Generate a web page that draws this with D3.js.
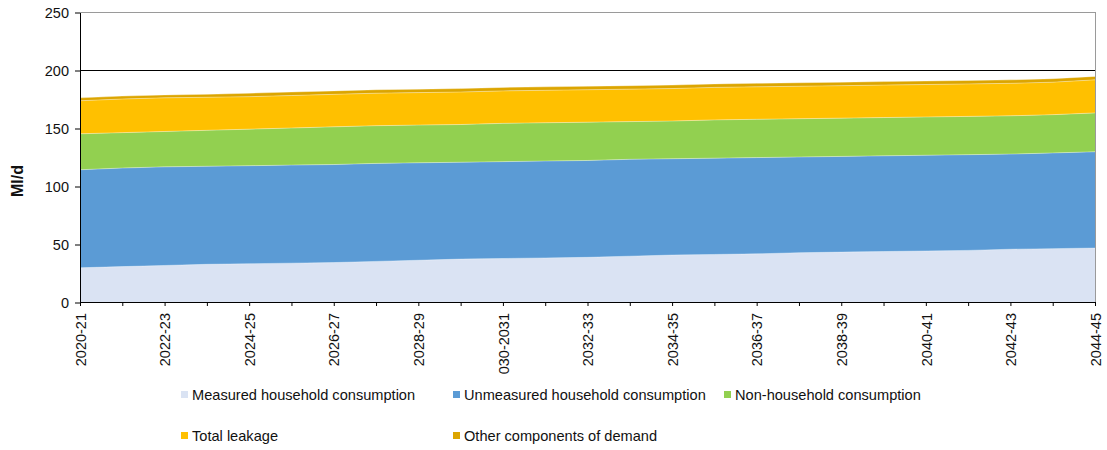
<!DOCTYPE html>
<html>
<head>
<meta charset="utf-8">
<script src="https://cdn.jsdelivr.net/npm/d3@7"></script>
<style>
  html, body { margin: 0; padding: 0; background: #fff; }
  svg { display: block; font-family: "Liberation Sans", Arial, sans-serif; }
</style>
</head>
<body>
<svg id="chart" width="1107" height="450"></svg>
<script>
// Demand components by year (Ml/d)
const years = ["2020-21","2021-22","2022-23","2023-24","2024-25","2025-26","2026-27","2027-28",
  "2028-29","2029-30","2030-31","2031-32","2032-33","2033-34","2034-35","2035-36","2036-37",
  "2037-38","2038-39","2039-40","2040-41","2041-42","2042-43","2043-44","2044-45"];

// Tick labels shown under every second year
const tickLabels = ["2020-21","2022-23","2024-25","2026-27","2028-29","030-2031","2032-33",
  "2034-35","2036-37","2038-39","2040-41","2042-43","2044-45"];

const measured    = [29.5,30.5,31.5,32.5,33,33.5,34,35,36,37,37.5,38,38.5,39.5,40.5,41,41.5,42.5,43,43.5,44,44.5,45.5,46,46.5];
const unmeasured  = [84.5,85,85,84.5,84.5,84.5,84.5,84.5,84,83.5,83.5,83.5,83.5,83.5,83,83,83,82.5,82.5,82.5,82.5,82.5,82,82.5,83];
const nonHousehold= [31,30.5,30.5,31,31.5,32,32.5,32.5,32.5,32.5,33,33,33,32.5,32.5,33,33,33,33,33,33,33,33,33,33.5];
const leakage     = [28.5,29,29,28.5,28,28,28,28,28,28,28,28,28,28,28,28,28,28,28,28,28,28,28,28,28.5];
const other       = [2.5,2.5,2.5,2.5,3,3,3,3,3,3,3,3,3,3,3,3,3,3,3,3,3,3,3,3,3];

const seriesNames = ["Measured household consumption","Unmeasured household consumption",
  "Non-household consumption","Total leakage","Other components of demand"];
const seriesColors = ["#dae3f3","#5b9bd5","#92d050","#ffc000","#dca500"];
const yTicks = [0,50,100,150,200,250];

const seriesValues = [measured, unmeasured, nonHousehold, leakage, other];
const keys = ["m","u","n","l","o"];
const rows = years.map((yr, i) => {
  const r = { year: yr };
  keys.forEach((k, j) => r[k] = seriesValues[j][i]);
  return r;
});

const svg = d3.select("#chart");
const plotLeft = 80, plotRight = 1095, plotTop = 12, plotBottom = 302;

const x = d3.scalePoint().domain(years).range([plotLeft, plotRight]);
const y = d3.scaleLinear().domain([0, 250]).range([plotBottom, plotTop]);

const layers = d3.stack().keys(keys)(rows);

const area = d3.area()
  .x(d => x(d.data.year))
  .y0(d => y(d[0]))
  .y1(d => y(d[1]));

svg.append("g").selectAll("path")
  .data(layers)
  .join("path")
  .attr("d", area)
  .attr("fill", (d, i) => seriesColors[i]);

// faint light seam along the top of each band
const topLine = d3.line().x(d => x(d.data.year)).y(d => y(d[1]));
svg.append("g").selectAll("path")
  .data(layers)
  .join("path")
  .attr("d", topLine)
  .attr("fill", "none")
  .attr("stroke", "#ffffff")
  .attr("stroke-opacity", 0.35)
  .attr("stroke-width", 1);

// plot frame: grey top/right edges, black 200 gridline
svg.append("line").attr("x1", plotLeft).attr("x2", plotRight).attr("y1", y(250) + 0.5).attr("y2", y(250) + 0.5)
  .attr("stroke", "#9a9a9a").attr("stroke-width", 1);
svg.append("line").attr("x1", plotRight + 0.5).attr("x2", plotRight + 0.5).attr("y1", y(250)).attr("y2", y(0))
  .attr("stroke", "#9a9a9a").attr("stroke-width", 1);
svg.append("line").attr("x1", plotLeft).attr("x2", plotRight).attr("y1", y(200) + 0.5).attr("y2", y(200) + 0.5)
  .attr("stroke", "#000").attr("stroke-width", 1);

// Y axis
const yAxis = svg.append("g")
  .attr("transform", `translate(${plotLeft},0.5)`)
  .call(d3.axisLeft(y).tickValues(yTicks).tickSize(5).tickSizeOuter(0).tickPadding(6));
yAxis.select(".domain").attr("stroke", "#000");
yAxis.selectAll(".tick line").attr("stroke", "#000");
yAxis.selectAll(".tick text").attr("font-size", "14.5px").attr("fill", "#111")
  .attr("font-family", "Liberation Sans, Arial, sans-serif");

// X axis: tick at every year, label every second year
const labelByYear = {};
years.forEach((yr, i) => { if (i % 2 === 0) labelByYear[yr] = tickLabels[i / 2]; });
const xAxis = svg.append("g")
  .attr("transform", `translate(0,${plotBottom})`)
  .call(d3.axisBottom(x).tickSize(4).tickSizeOuter(0).tickFormat(d => labelByYear[d] || ""));
xAxis.select(".domain").attr("stroke", "#000");
xAxis.selectAll(".tick line").attr("stroke", "#000");
xAxis.selectAll(".tick text")
  .attr("font-size", "14.5px").attr("fill", "#111")
  .attr("font-family", "Liberation Sans, Arial, sans-serif")
  .attr("text-anchor", "end")
  .attr("transform", "rotate(-90)")
  .attr("x", -11).attr("y", 0).attr("dy", "0.36em");

// Y axis title
svg.append("text")
  .attr("transform", "translate(23,181) rotate(-90)")
  .attr("text-anchor", "middle")
  .attr("font-size", "16px").attr("font-weight", "bold").attr("fill", "#111")
  .text("Ml/d");

// Legend
const legendPos = [[181, 395], [453, 395], [724, 395], [181, 436], [453, 436]];
const legend = svg.append("g").selectAll("g")
  .data(seriesNames)
  .join("g")
  .attr("transform", (d, i) => `translate(${legendPos[i][0]},${legendPos[i][1]})`);
legend.append("rect").attr("x", 0).attr("y", -4).attr("width", 7).attr("height", 7)
  .attr("fill", (d, i) => seriesColors[i]);
legend.append("text").attr("x", 11).attr("y", 0).attr("dy", "0.35em")
  .attr("font-size", "14.6px").attr("fill", "#111").text(d => d);
</script>
</body>
</html>
